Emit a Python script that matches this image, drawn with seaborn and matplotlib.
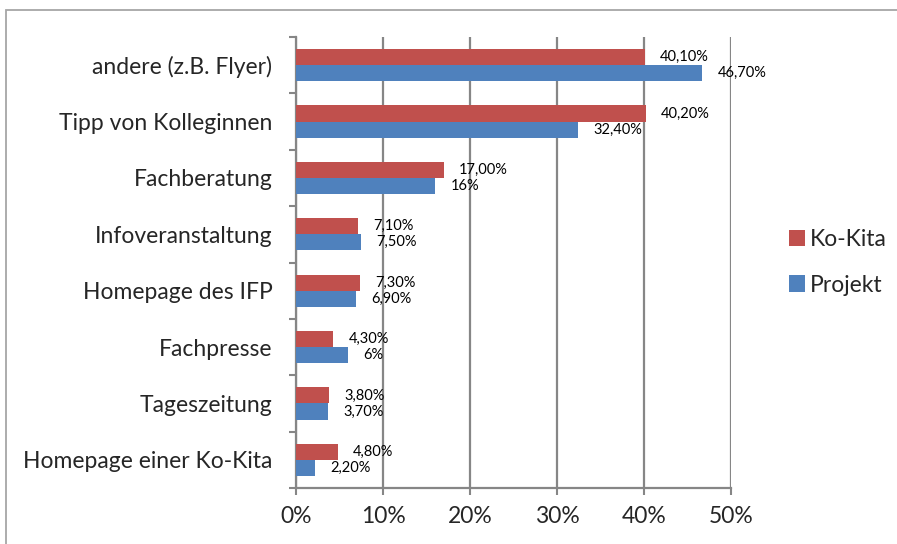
import pandas as pd
import matplotlib.pyplot as plt
import seaborn as sns
from matplotlib.patches import Rectangle

# Werte aus dem Diagramm (Anteile in %)
categories = ["andere (z.B. Flyer)", "Tipp von Kolleginnen", "Fachberatung",
              "Infoveranstaltung", "Homepage des IFP", "Fachpresse",
              "Tageszeitung", "Homepage einer Ko-Kita"]
ko_kita = [40.1, 40.2, 17.0, 7.1, 7.3, 4.3, 3.8, 4.8]
projekt = [46.7, 32.4, 16.0, 7.5, 6.9, 6.0, 3.7, 2.2]
ko_kita_labels = ["40,10%", "40,20%", "17,00%", "7,10%", "7,30%", "4,30%", "3,80%", "4,80%"]
projekt_labels = ["46,70%", "32,40%", "16%", "7,50%", "6,90%", "6%", "3,70%", "2,20%"]
series = ["Ko-Kita", "Projekt"]
colors = {"Ko-Kita": "#C0504D", "Projekt": "#4F81BD"}

df = pd.DataFrame({
    "Kategorie": categories * 2,
    "Anteil": ko_kita + projekt,
    "Gruppe": ["Ko-Kita"] * len(categories) + ["Projekt"] * len(categories),
})

sns.set_style("white")
plt.rcParams['font.family'] = ['Lato', 'DejaVu Sans']

fig = plt.figure(figsize=(8.97, 5.44), dpi=100)
ax = fig.add_axes([296 / 897, 1 - 488 / 544, 435 / 897, 451 / 544])

sns.barplot(data=df, x="Anteil", y="Kategorie", hue="Gruppe", hue_order=series,
            order=categories, palette=colors, orient="h", width=0.57, gap=0,
            saturation=1, edgecolor="none", ax=ax, zorder=3)

# Datenbeschriftungen
for cont, labs in zip(ax.containers, [ko_kita_labels, projekt_labels]):
    ax.bar_label(cont, labels=labs, padding=11, fontsize=10.5, color="black")

ax.set_xlim(0, 50)
ax.set_ylim(7.5, -0.5)
ax.set_xticks([0, 10, 20, 30, 40, 50])
ax.set_xticklabels(["0%", "10%", "20%", "30%", "40%", "50%"], fontsize=16.5)
ax.set_yticks(range(len(categories)))
ax.set_yticklabels(categories, fontsize=16.5)
ax.set_yticks([i - 0.5 for i in range(len(categories) + 1)], minor=True)
ax.tick_params(axis="y", which="major", length=0, pad=17)
ax.tick_params(axis="y", which="minor", length=5, width=1.5, color="#868686", left=True)
ax.tick_params(axis="x", length=5, width=1.5, color="#868686", pad=8, bottom=True)

ax.grid(axis="x", color="#868686", linewidth=1.6, zorder=0)
ax.grid(axis="y", visible=False)
ax.set_axisbelow(True)
for side in ["top", "right"]:
    ax.spines[side].set_visible(False)
for side in ["left", "bottom"]:
    ax.spines[side].set_color("#868686")
    ax.spines[side].set_linewidth(1.6)
ax.set_xlabel("")
ax.set_ylabel("")

ax.legend(loc="center left", bbox_to_anchor=(1.085, 0.5), frameon=False,
          fontsize=16.5, handlelength=0.7, handleheight=0.7, handletextpad=0.25,
          labelspacing=1.05)

# Rahmen um das Diagramm
fig.patches.append(Rectangle((6 / 897, -0.05), 1.0, 1 - 10 / 544 + 0.05,
                             transform=fig.transFigure, fill=False,
                             edgecolor="#A6A6A6", linewidth=1.3))

fig.savefig("out.png", dpi=100)
